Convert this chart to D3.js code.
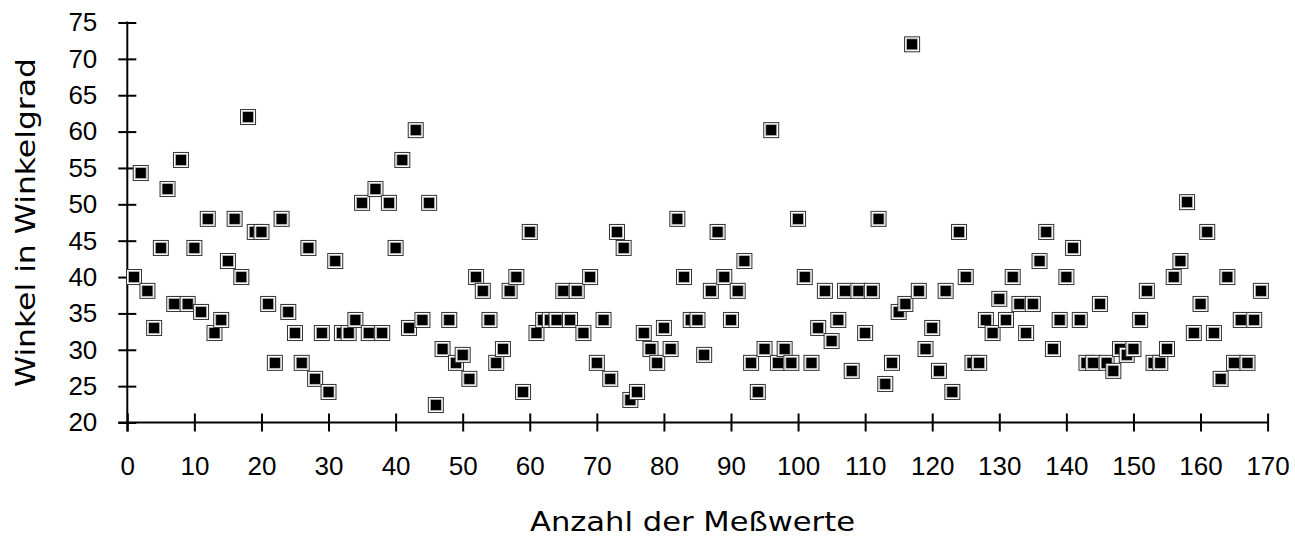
<!DOCTYPE html>
<html>
<head>
<meta charset="utf-8">
<script src="https://cdn.jsdelivr.net/npm/d3@7/dist/d3.min.js"></script>
<style>
  html, body { margin: 0; padding: 0; background: #fff; }
  svg { display: block; }
</style>
</head>
<body>
<svg id="chart" width="1295" height="544"></svg>
<script>
// Measurement index (Anzahl der Meßwerte) 1..169
const messwerte = d3.range(1, 170);
// Winkel in Winkelgrad
const winkel = [
  40, 54.3, 38.1, 33, 44, 52.1, 36.3, 56.1, 36.3, 44,          // 1-10
  35.2, 48, 32.3, 34.1, 42.2, 48, 40, 62, 46.2, 46.2,          // 11-20
  36.3, 28.2, 48, 35.2, 32.3, 28.2, 44, 26, 32.3, 24.2,        // 21-30
  42.2, 32.3, 32.3, 34.1, 50.2, 32.3, 52.1, 32.3, 50.2, 44,    // 31-40
  56.1, 33, 60.2, 34.1, 50.2, 22.4, 30.1, 34.1, 28.2, 29.3,    // 41-50
  26, 40, 38.1, 34.1, 28.2, 30.1, 38.1, 40, 24.2, 46.2,        // 51-60
  32.3, 34.1, 34.1, 34.1, 38.1, 34.1, 38.1, 32.3, 40, 28.2,    // 61-70
  34.1, 26, 46.2, 44, 23.1, 24.2, 32.3, 30.1, 28.2, 33,        // 71-80
  30.1, 48, 40, 34.1, 34.1, 29.3, 38.1, 46.2, 40, 34.1,        // 81-90
  38.1, 42.2, 28.2, 24.2, 30.1, 60.2, 28.2, 30.1, 28.2, 48,    // 91-100
  40, 28.2, 33, 38.1, 31.2, 34.1, 38.1, 27.1, 38.1, 32.3,      // 101-110
  38.1, 48, 25.3, 28.2, 35.2, 36.3, 72, 38.1, 30.1, 33,        // 111-120
  27.1, 38.1, 24.2, 46.2, 40, 28.2, 28.2, 34.1, 32.3, 37,      // 121-130
  34.1, 40, 36.3, 32.3, 36.3, 42.2, 46.2, 30.1, 34.1, 40,      // 131-140
  44, 34.1, 28.2, 28.2, 36.3, 28.2, 27.1, 30.1, 29.3, 30.1,    // 141-150
  34.1, 38.1, 28.2, 28.2, 30.1, 40, 42.2, 50.3, 32.3, 36.3,    // 151-160
  46.2, 32.3, 26, 40, 28.2, 34.1, 28.2, 34.1, 38.1             // 161-169
];
const xTicks = d3.range(0, 171, 10);
const yTicks = d3.range(20, 76, 5);
const xTitle = "Anzahl der Meßwerte";
const yTitle = "Winkel in Winkelgrad";

const svg = d3.select("#chart");
const x = d3.scaleLinear().domain([0, 170]).range([127.3, 1267.6]);
const y = d3.scaleLinear().domain([20, 75]).range([422.5, 22.5]);
const T = 9;
const tickFont = "'Liberation Sans', Arial, sans-serif";

// Y axis
const gy = svg.append("g").attr("transform", `translate(${x(0)},0)`)
  .call(d3.axisLeft(y).tickValues(yTicks).tickSize(T).tickPadding(21).tickSizeOuter(0));
gy.select(".domain").remove();
gy.selectAll(".tick line").attr("x1", T).attr("stroke", "#000").attr("stroke-width", 2);
gy.selectAll(".tick text").attr("font-family", tickFont).attr("font-size", 26).attr("fill", "#000");

// X axis
const gx = svg.append("g").attr("transform", `translate(0,${y(20)})`)
  .call(d3.axisBottom(x).tickValues(xTicks).tickSize(T).tickPadding(25).tickSizeOuter(0));
gx.select(".domain").remove();
gx.selectAll(".tick line").attr("y1", -T).attr("stroke", "#000").attr("stroke-width", 2);
gx.selectAll(".tick text").attr("font-family", tickFont).attr("font-size", 26).attr("fill", "#000");

// Axis lines
svg.append("line").attr("x1", x(0)).attr("x2", x(0)).attr("y1", y(75) - 1).attr("y2", y(20) + T)
  .attr("stroke", "#000").attr("stroke-width", 2);
svg.append("line").attr("x1", x(0) - T).attr("x2", x(170) + 1).attr("y1", y(20)).attr("y2", y(20))
  .attr("stroke", "#000").attr("stroke-width", 2);

// Markers
const pts = messwerte.map((m, i) => ({ m, v: winkel[i] }));
const g = svg.append("g").selectAll("g").data(pts).join("g")
  .attr("transform", d => `translate(${x(d.m)},${y(d.v)})`);
g.append("rect").attr("x", -7.5).attr("y", -7.5).attr("width", 15).attr("height", 15)
  .attr("fill", "#fff").attr("stroke", "#333").attr("stroke-width", 1);
g.append("rect").attr("x", -5.5).attr("y", -5.5).attr("width", 11).attr("height", 11)
  .attr("fill", "#000").attr("stroke", "#bbb").attr("stroke-width", 0.8);

// Titles
const titleFont = "'DejaVu Sans', sans-serif";
svg.append("text").attr("x", 692.5).attr("y", 531).attr("text-anchor", "middle")
  .attr("font-family", titleFont).attr("font-size", 27).attr("fill", "#000")
  .attr("textLength", 325).attr("lengthAdjust", "spacingAndGlyphs")
  .text(xTitle);
svg.append("text").attr("transform", "translate(35,222.5) rotate(-90)").attr("text-anchor", "middle")
  .attr("font-family", titleFont).attr("font-size", 27).attr("fill", "#000")
  .attr("textLength", 329).attr("lengthAdjust", "spacingAndGlyphs")
  .text(yTitle);
</script>
</body>
</html>
